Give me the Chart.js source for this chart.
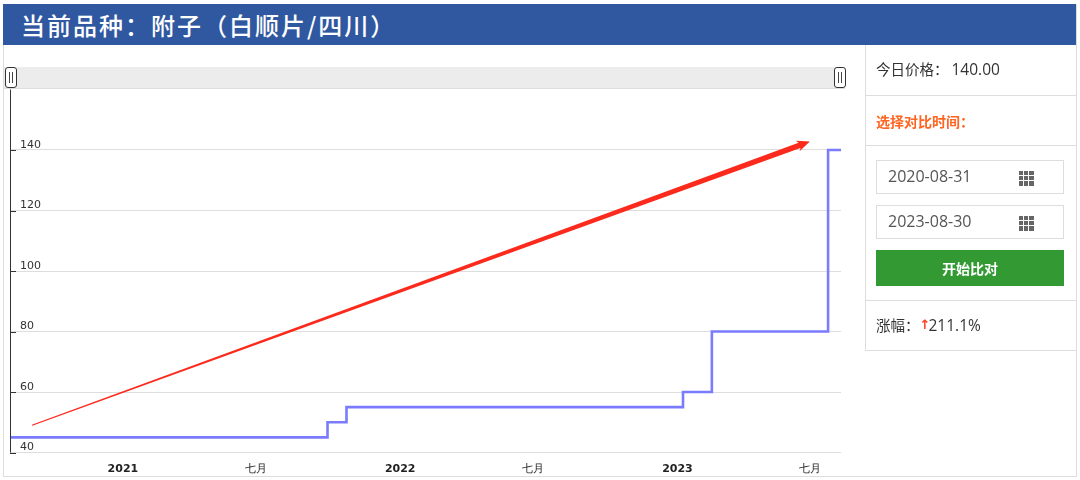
<!DOCTYPE html>
<html lang="zh">
<head>
<meta charset="utf-8">
<title>附子（白顺片/四川）</title>
<script src="https://cdn.jsdelivr.net/npm/chart.js@4"></script>
<style>
    html, body { margin: 0; padding: 0; background: #fff; }
    body { width: 1080px; height: 480px; position: relative; overflow: hidden; font-family: "Open Sans", "Noto Sans CJK SC", sans-serif; color: #333; }
    .frame { position: absolute; left: 3px; top: 4px; width: 1072px; height: 471px; border: 1px solid #ddd; }
    .title { position: absolute; left: 3px; top: 4px; width: 1073px; height: 41px; background: #2f58a0; color: #fff; font-size: 24px; font-weight: 500; line-height: 42px; letter-spacing: 2px; font-family: "Noto Sans CJK TC", sans-serif; text-indent: 18px; }
    .slider { position: absolute; left: 4px; top: 67px; width: 841px; height: 21px; background: #ececec; border-bottom: 1px solid #ddd; }
    .handle { position: absolute; top: 67px; width: 10px; height: 19px; background: #fff; border: 1px solid #333; border-radius: 3px; }
    .handle::after { content: ""; position: absolute; left: 3px; top: 4px; width: 2px; height: 11px; border-left: 1px solid #444; border-right: 1px solid #444; }
    #chartBox { position: absolute; left: 4px; top: 45px; }
    .side { position: absolute; left: 865px; top: 45px; width: 211px; height: 305px; border-left: 1px solid #ddd; border-bottom: 1px solid #ddd; }
    .rule { position: absolute; left: 0; width: 211px; height: 1px; background: #ddd; }
    .txt { position: absolute; left: 10px; font-size: 14.5px; line-height: 20px; white-space: nowrap; }
    .num { font-size: 15.5px; }
    .orange { color: #ff6420; font-weight: 700; font-size: 14px; font-family: "Noto Sans CJK SC", sans-serif; }
    .date { position: absolute; left: 10px; width: 186px; height: 32px; border: 1px solid #ddd; font-size: 16px; line-height: 30px; color: #555; text-indent: 11px; }
    .date i { position: absolute; left: 142px; top: 10px; width: 15px; height: 15px; background:
        linear-gradient(#fff 0 0) 0 4px / 15px 1px no-repeat,
        linear-gradient(#fff 0 0) 0 9px / 15px 1px no-repeat,
        linear-gradient(#fff 0 0) 4px 0 / 1px 15px no-repeat,
        linear-gradient(#fff 0 0) 9px 0 / 1px 15px no-repeat, #666; }
    .btn { position: absolute; left: 10px; top: 205px; width: 188px; height: 36px; background: #339933; color: #fff; font-weight: 700; font-size: 14px; line-height: 36px; text-align: center; font-family: "Noto Sans CJK SC", sans-serif; }
    .up { color: #ff4422; display: inline-block; width: 9px; overflow: hidden; font-family: "DejaVu Sans"; font-size: 13px; font-weight: bold; vertical-align: top; }
</style>
</head>
<body>
<div class="frame"></div>
<div class="title">当前品种：附子（白顺片/四川）</div>
<div class="slider"></div>
<div id="chartBox"><canvas id="priceChart" width="860" height="430"></canvas></div>
<div class="handle" style="left:5px"></div>
<div class="handle" style="left:834px"></div>
<div class="side">
    <div class="txt" style="top:14px">今日价格：<span class="num" style="margin-left:3px">140.00</span></div>
    <div class="rule" style="top:50px"></div>
    <div class="txt orange" style="top:66px">选择对比时间：</div>
    <div class="rule" style="top:100px"></div>
    <div class="date" style="top:115px">2020-08-31<i></i></div>
    <div class="date" style="top:160px">2023-08-30<i></i></div>
    <div class="btn">开始比对</div>
    <div class="rule" style="top:255px"></div>
    <div class="txt" style="top:270px">涨幅：<span class="up">↑</span><span class="num">211.1%</span></div>
</div>
<script>
    // Dati
    const stepDates = ['2020-08-31', '2021-10-23', '2021-11-17', '2023-02-03', '2023-03-13', '2023-08-13', '2023-08-30'];
    const stepPrices = [45, 50, 55, 60, 80, 140, 140];
    const xTickDates = ['2021-01-01', '2021-06-25', '2022-01-01', '2022-06-25', '2023-01-01', '2023-06-25'];
    const xTickLabels = ['2021', '七月', '2022', '七月', '2023', '七月'];
    const yTicks = [40, 60, 80, 100, 120, 140];
    const arrowDates = ['2020-09-29', '2023-07-20'];
    const arrowPrices = [49, 142.8];

    const toMs = function (d) { return Date.parse(d + 'T00:00:00Z'); };
    const xTickValues = xTickDates.map(toMs);

    // Freccia rossa, asse e tacche dell'asse y
    const overlay = {
        id: 'overlay',
        afterDatasetsDraw: function (chart) {
            const c = chart.ctx, x = chart.scales.x, y = chart.scales.y, area = chart.chartArea;
            c.save();
            c.strokeStyle = '#333';
            c.lineWidth = 1;
            c.beginPath();
            c.moveTo(area.left + 0.5, area.top);
            c.lineTo(area.left + 0.5, area.bottom);
            yTicks.forEach(function (v) {
                const py = Math.round(y.getPixelForValue(v)) + 0.5;
                c.moveTo(area.left, py);
                c.lineTo(area.left + 6, py);
            });
            c.stroke();

            const x0 = x.getPixelForValue(toMs(arrowDates[0])), y0 = y.getPixelForValue(arrowPrices[0]);
            const x1 = x.getPixelForValue(toMs(arrowDates[1])), y1 = y.getPixelForValue(arrowPrices[1]);
            const len = Math.hypot(x1 - x0, y1 - y0);
            const ux = (x1 - x0) / len, uy = (y1 - y0) / len;
            const nx = -uy, ny = ux;
            const neck = len - 11;
            const pt = function (along, off) { return [x0 + ux * along + nx * off, y0 + uy * along + ny * off]; };
            const shape = [pt(0, 0.6), pt(neck, 2.8), pt(neck - 2, 5.5), pt(len, 0), pt(neck - 2, -5.5), pt(neck, -2.8), pt(0, -0.6)];
            c.fillStyle = '#fb2a1c';
            c.beginPath();
            shape.forEach(function (p, i) { i ? c.lineTo(p[0], p[1]) : c.moveTo(p[0], p[1]); });
            c.closePath();
            c.fill();
            c.restore();
        }
    };

    new Chart(document.getElementById('priceChart'), {
        type: 'line',
        data: {
            datasets: [{
                data: stepDates.map(function (d, i) { return { x: toMs(d), y: stepPrices[i] }; }),
                borderColor: '#7b7bff',
                borderWidth: 2.6,
                stepped: true,
                pointRadius: 0,
                clip: false
            }]
        },
        options: {
            responsive: false,
            animation: false,
            layout: { padding: { left: 6, right: 23, top: 44.5, bottom: 0 } },
            plugins: { legend: { display: false }, tooltip: { enabled: false } },
            scales: {
                x: {
                    type: 'linear',
                    min: toMs(stepDates[0]),
                    max: toMs(stepDates[stepDates.length - 1]),
                    afterBuildTicks: function (scale) {
                        scale.ticks = xTickValues.map(function (v) { return { value: v }; });
                    },
                    afterFit: function (scale) { scale.height = 22.5; },
                    grid: { display: false },
                    border: { display: false },
                    ticks: {
                        autoSkip: false,
                        maxRotation: 0,
                        padding: 2,
                        labelOffset: 19.5,
                        color: '#222',
                        font: function (ctx) {
                            const bold = ctx.index % 2 === 0;
                            return { family: 'DejaVu Sans', size: 11, weight: bold ? 'bold' : 'normal' };
                        },
                        callback: function (value, index) { return xTickLabels[index]; }
                    }
                },
                y: {
                    min: 40,
                    max: 160,
                    afterBuildTicks: function (scale) {
                        scale.ticks = yTicks.map(function (v) { return { value: v }; });
                    },
                    afterFit: function (scale) { scale.width = 0; },
                    grid: { color: '#dddddd', drawTicks: false },
                    border: { display: false },
                    ticks: {
                        mirror: true,
                        padding: 10,
                        labelOffset: -5,
                        color: '#333',
                        font: { family: 'DejaVu Sans', size: 11 }
                    }
                }
            }
        },
        plugins: [overlay]
    });
</script>
</body>
</html>
